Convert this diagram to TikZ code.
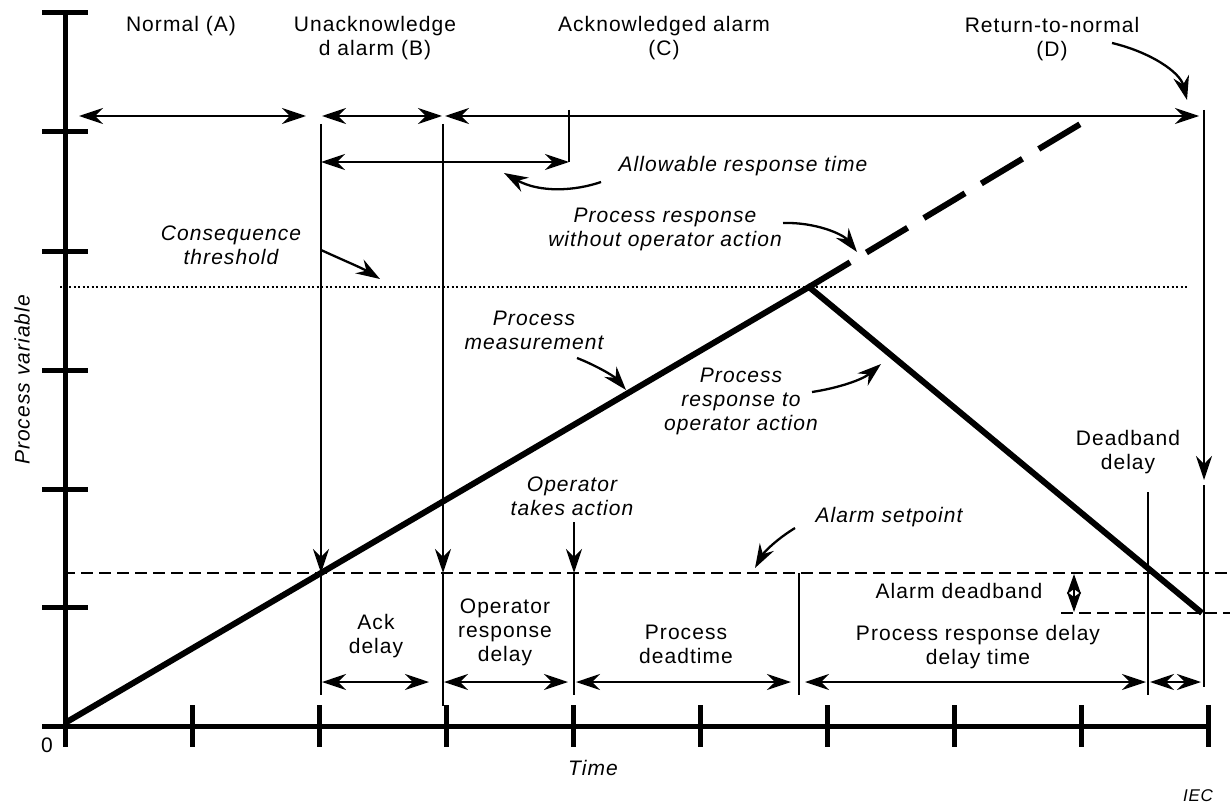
\documentclass[tikz,border=0pt]{standalone}
\usepackage{fontspec}
\setmainfont{Liberation Sans}[LetterSpace=5]
\usetikzlibrary{arrows.meta}
\begin{document}
\begin{tikzpicture}[x=1pt,y=-1pt,
  >={Stealth[length=24pt,width=16pt,inset=8pt]},
  axis/.style={line width=5pt},
  ln/.style={line width=2.3pt},
  lbl/.style={font=\fontsize{21}{24}\selectfont, align=center, inner sep=0pt},
  ital/.style={font=\fontsize{21}{24}\selectfont\itshape, align=center, inner sep=0pt},
  small/.style={{Stealth[length=20pt,width=14pt,inset=5pt]}-{Stealth[length=20pt,width=14pt,inset=5pt]}}
]
\useasboundingbox (0,0) rectangle (1230,805);

% axes
\coordinate (Ytop) at (65,13);
\coordinate (Ybot) at (65,747);
\coordinate (Xl) at (42,726);
\coordinate (Xr) at (1211,726);
\draw[axis] (Ytop) -- (Ybot);
\draw[axis] (Xl) -- (Xr);
\foreach \y in {13,132,251,370,489,607} \draw[axis] (42,\y) -- (88,\y);
\foreach \k in {1,...,9} \draw[axis] ({65+127.1*\k},705) -- ({65+127.1*\k},747);

% reference lines
\coordinate (sp1) at (63,573);   \coordinate (sp2) at (1230,573);
\coordinate (db1) at (1061,613); \coordinate (db2) at (1230,613);
\coordinate (ct1) at (60,287);   \coordinate (ct2) at (1189,287);
\draw[ln, dash pattern=on 12pt off 6pt] (sp1) -- (sp2);
\draw[ln, dash pattern=on 12pt off 6pt] (db1) -- (db2);
\draw[line width=2pt, dash pattern=on 2pt off 2.5pt] (ct1) -- (ct2);

% process curves
\coordinate (start) at (65,723);
\coordinate (peak) at (809,287);
\coordinate (dashend) at (1082,123);
\coordinate (resp) at (1202,613);
\draw[line width=6pt, line join=miter] (start) -- (peak) -- (resp);
\draw[line width=6pt, dash pattern=on 48pt off 19pt] (peak) -- (dashend);

% top interval arrows
\coordinate (a1) at (79,116);  \coordinate (a2) at (306,116);
\coordinate (b1) at (322,116); \coordinate (b2) at (442,116);
\coordinate (c1) at (445,116); \coordinate (c2) at (1199,116);
\draw[ln,<->] (a1) -- (a2);
\draw[ln,<->] (b1) -- (b2);
\draw[ln,<->] (c1) -- (c2);
\coordinate (ar1) at (569,110); \coordinate (ar2) at (569,162);
\coordinate (ar0) at (321,162);
\draw[ln] (ar1) -- (ar2);
\draw[ln,<->] (ar0) -- (ar2);

% vertical lines
\coordinate (v1t) at (321,124); \coordinate (v1m) at (321,573); \coordinate (v1b) at (321,695);
\coordinate (v2t) at (443,124); \coordinate (v2m) at (443,573); \coordinate (v2b) at (443,706);
\coordinate (v3t) at (574,522); \coordinate (v3m) at (574,573); \coordinate (v3b) at (574,695);
\coordinate (v4t) at (799,573); \coordinate (v4b) at (799,695);
\coordinate (v5t) at (1148,492); \coordinate (v5b) at (1148,695);
\coordinate (v6t) at (1204,110); \coordinate (v6m) at (1204,480);
\coordinate (v6n) at (1204,485); \coordinate (v6b) at (1204,687);
\draw[ln,->] (v1t) -- (v1m); \draw[ln] (v1m) -- (v1b);
\draw[ln,->] (v2t) -- (v2m); \draw[ln] (v2m) -- (v2b);
\draw[ln,->] (v3t) -- (v3m); \draw[ln] (v3m) -- (v3b);
\draw[ln] (v4t) -- (v4b);
\draw[ln] (v5t) -- (v5b);
\draw[ln,->] (v6t) -- (v6m); \draw[ln] (v6n) -- (v6b);

% bottom interval arrows
\coordinate (d1) at (322,682); \coordinate (d2) at (429,682);
\coordinate (e1) at (444,682); \coordinate (e2) at (568,682);
\coordinate (f1) at (576,682); \coordinate (f2) at (791,682);
\coordinate (g1) at (805,682); \coordinate (g2) at (1146,682);
\coordinate (h1) at (1150,682); \coordinate (h2) at (1201,682);
\draw[ln,<->] (d1) -- (d2);
\draw[ln,<->] (e1) -- (e2);
\draw[ln,<->] (f1) -- (f2);
\draw[ln,<->] (g1) -- (g2);
\draw[ln,<->] (h1) -- (h2);
\coordinate (k1) at (1074,574); \coordinate (k2) at (1074,612);
\draw[ln,small] (k1) -- (k2);

% labels
\node[lbl] (nA) at (181,26) {Normal (A)};
\node[lbl] (nB) at (375,38) {Unacknowledge\\d alarm (B)};
\node[lbl] (nC) at (664,38) {Acknowledged alarm\\(C)};
\node[lbl] (nD) at (1052,39) {Return-to-normal\\(D)};
\node[ital] (cons) at (231,245) {Consequence\\threshold};
\node[ital] (allow) at (743,166) {Allowable response time};
\node[ital] (wo) at (665,229) {Process response\\without operator action};
\node[ital] (meas) at (534,330) {Process\\measurement};
\node[ital] (rto) at (741,401) {Process\\response to\\operator action};
\node[lbl] (dbd) at (1128,452) {Deadband\\delay};
\node[ital] (ota) at (572,496) {Operator\\takes action};
\node[ital] (asp) at (889,517) {Alarm setpoint};
\node[lbl] (adb) at (959,591) {Alarm deadband};
\node[lbl] (ack) at (376,636) {Ack\\delay};
\node[lbl] (ord) at (505,632) {Operator\\response\\delay};
\node[lbl] (pdt) at (686,644) {Process\\deadtime};
\node[lbl] (prd) at (978,647) {Process response delay\\delay time};
\node[lbl] (zero) at (47,745) {0};
\node[ital] (time) at (593,768) {Time};
\node[ital, rotate=90] (pv) at (22,380) {Process variable};
\node[font=\fontsize{17}{19}\selectfont\itshape, inner sep=0pt] (iec) at (1198,796) {IEC};

% annotation arrows
\coordinate (p1s) at (321,250); \coordinate (p1e) at (380,279);
\draw[ln,->] (p1s) .. controls (345,261) and (362,268) .. (p1e);
\coordinate (p2s) at (601,182); \coordinate (p2e) at (504,173);
\draw[ln,->] (p2s) .. controls (575,191) and (540,193) .. (p2e);
\coordinate (p3s) at (783,223); \coordinate (p3e) at (857,252);
\draw[ln,->] (p3s) .. controls (815,222) and (843,234) .. (p3e);
\coordinate (p4s) at (577,358); \coordinate (p4e) at (626,390);
\draw[ln,->] (p4s) .. controls (595,365) and (614,376) .. (p4e);
\coordinate (p5s) at (812,392); \coordinate (p5e) at (881,364);
\draw[ln,->] (p5s) .. controls (838,388) and (862,380) .. (p5e);
\coordinate (p7s) at (795,528); \coordinate (p7e) at (755,568);
\draw[ln,->] (p7s) .. controls (777,539) and (764,552) .. (p7e);
\coordinate (p8s) at (1112,43); \coordinate (p8e) at (1187,100);
\draw[ln,->] (p8s) .. controls (1150,52) and (1180,72) .. (p8e);
\end{tikzpicture}
\end{document}
